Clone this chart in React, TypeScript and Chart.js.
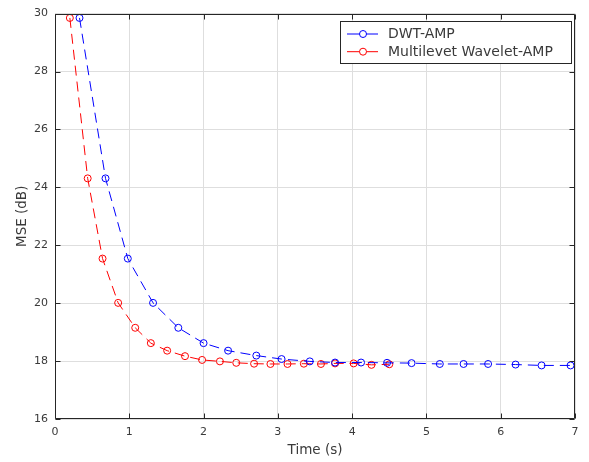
import React, { useEffect, useRef } from "react";
import { Chart, registerables } from "chart.js";

Chart.register(...registerables);

// ---- data ----
const timeDWT = [0.33, 0.68, 0.98, 1.32, 1.66, 2.0, 2.33, 2.71, 3.05, 3.43, 3.77, 4.12, 4.47, 4.8, 5.18, 5.5, 5.83, 6.2, 6.55, 6.94];
const mseDWT = [29.85, 24.31, 21.54, 20.01, 19.15, 18.62, 18.36, 18.19, 18.07, 17.99, 17.95, 17.95, 17.94, 17.93, 17.9, 17.9, 17.9, 17.88, 17.85, 17.85];

const timeMulti = [0.2, 0.44, 0.64, 0.85, 1.08, 1.29, 1.51, 1.75, 1.98, 2.22, 2.44, 2.68, 2.9, 3.13, 3.35, 3.58, 3.77, 4.02, 4.26, 4.5];
const mseMulti = [29.85, 24.31, 21.54, 20.01, 19.15, 18.62, 18.36, 18.17, 18.04, 17.99, 17.94, 17.91, 17.9, 17.9, 17.91, 17.9, 17.92, 17.92, 17.87, 17.89];

const seriesNames = ["DWT-AMP", "Multilevet Wavelet-AMP"];
const seriesColors = ["#0000ff", "#ff0000"];

const xMin = 0, xMax = 7, xStep = 1;
const yMin = 16, yMax = 30, yStep = 2;
const xTitle = "Time (s)";
const yTitle = "MSE (dB)";

const FONT = "'DejaVu Sans', sans-serif";
const AXIS_COLOR = "#262626";
const TEXT_COLOR = "#3a3a3a";

const framePlugin = {
  id: "matlabFrame",
  afterDraw(chart: any) {
    const { ctx, chartArea, scales } = chart;
    const { left, right, top, bottom } = chartArea;
    ctx.save();
    ctx.strokeStyle = AXIS_COLOR;
    ctx.lineWidth = 1;
    const L = Math.round(left) + 0.5, R = Math.round(right) - 0.5;
    const T = Math.round(top) + 0.5, B = Math.round(bottom) - 0.5;
    ctx.beginPath();
    ctx.rect(L, T, R - L, B - T);
    ctx.stroke();
    // inward ticks
    const tl = 5;
    ctx.beginPath();
    scales.x.ticks.forEach((t: any) => {
      const px = Math.round(scales.x.getPixelForValue(t.value)) + 0.5;
      ctx.moveTo(px, B); ctx.lineTo(px, B - tl);
      ctx.moveTo(px, T); ctx.lineTo(px, T + tl);
    });
    scales.y.ticks.forEach((t: any) => {
      const py = Math.round(scales.y.getPixelForValue(t.value)) + 0.5;
      ctx.moveTo(L, py); ctx.lineTo(L + tl, py);
      ctx.moveTo(R, py); ctx.lineTo(R - tl, py);
    });
    ctx.stroke();

    // legend box
    const bx = 340.5, by = 21.5, bw = 231, bh = 42;
    ctx.fillStyle = "#ffffff";
    ctx.fillRect(bx, by, bw, bh);
    ctx.strokeStyle = AXIS_COLOR;
    ctx.strokeRect(bx, by, bw, bh);
    ctx.font = `14px ${FONT}`;
    ctx.textBaseline = "middle";
    ctx.textAlign = "left";
    seriesNames.forEach((name, i) => {
      const y = 34 + i * 17.7;
      ctx.strokeStyle = seriesColors[i];
      ctx.lineWidth = 1;
      ctx.beginPath();
      ctx.moveTo(347, y); ctx.lineTo(359.5, y);
      ctx.moveTo(366.5, y); ctx.lineTo(378, y);
      ctx.stroke();
      ctx.beginPath();
      ctx.arc(363, y, 3.5, 0, Math.PI * 2);
      ctx.stroke();
      ctx.fillStyle = TEXT_COLOR;
      ctx.fillText(name, 388, y + 0.5);
    });
    ctx.restore();
  },
};

export default function App() {
  const ref = useRef<HTMLCanvasElement | null>(null);
  useEffect(() => {
    if (!ref.current) return;
    const mk = (xs: number[], ys: number[]) => xs.map((x, i) => ({ x, y: ys[i] }));
    const chart = new Chart(ref.current, {
      type: "line",
      data: {
        datasets: [
          {
            label: seriesNames[0],
            data: mk(timeDWT, mseDWT),
            borderColor: seriesColors[0],
            backgroundColor: "transparent",
            borderWidth: 1,
            borderDash: [10, 6],
            pointStyle: "circle",
            pointRadius: 3.5,
            pointBorderWidth: 1,
            pointBorderColor: seriesColors[0],
            pointBackgroundColor: "transparent",
            tension: 0,
            fill: false,
          },
          {
            label: seriesNames[1],
            data: mk(timeMulti, mseMulti),
            borderColor: seriesColors[1],
            backgroundColor: "transparent",
            borderWidth: 1,
            borderDash: [10, 6],
            pointStyle: "circle",
            pointRadius: 3.5,
            pointBorderWidth: 1,
            pointBorderColor: seriesColors[1],
            pointBackgroundColor: "transparent",
            tension: 0,
            fill: false,
          },
        ],
      },
      options: {
        responsive: false,
        animation: false,
        layout: { padding: { left: 0, top: 9, right: 14, bottom: 0 } },
        plugins: { legend: { display: false }, tooltip: { enabled: false } },
        scales: {
          x: {
            type: "linear",
            min: xMin,
            max: xMax,
            afterFit: (s: any) => { s.height = 43; },
            ticks: { stepSize: xStep, padding: 7, color: TEXT_COLOR, font: { family: FONT, size: 11 } },
            grid: { color: "#dedede", lineWidth: 1, drawTicks: false },
            border: { display: false },
            title: { display: true, text: xTitle, color: TEXT_COLOR, font: { family: FONT, size: 13.5 }, padding: { top: 0, bottom: 3 } },
          },
          y: {
            type: "linear",
            min: yMin,
            max: yMax,
            afterFit: (s: any) => { s.width = 55; },
            ticks: { stepSize: yStep, padding: 7, color: TEXT_COLOR, font: { family: FONT, size: 11 } },
            grid: { color: "#dedede", lineWidth: 1, drawTicks: false },
            border: { display: false },
            title: { display: true, text: yTitle, color: TEXT_COLOR, font: { family: FONT, size: 13.5 }, padding: { top: 14, bottom: 0 } },
          },
        },
      },
      plugins: [framePlugin],
    });
    return () => chart.destroy();
  }, []);
  return (
    <div style={{ position: "fixed", left: 0, top: 0, width: 589, height: 462, background: "#ffffff" }}>
      <canvas ref={ref} width={589} height={462} style={{ display: "block" }} />
    </div>
  );
}
